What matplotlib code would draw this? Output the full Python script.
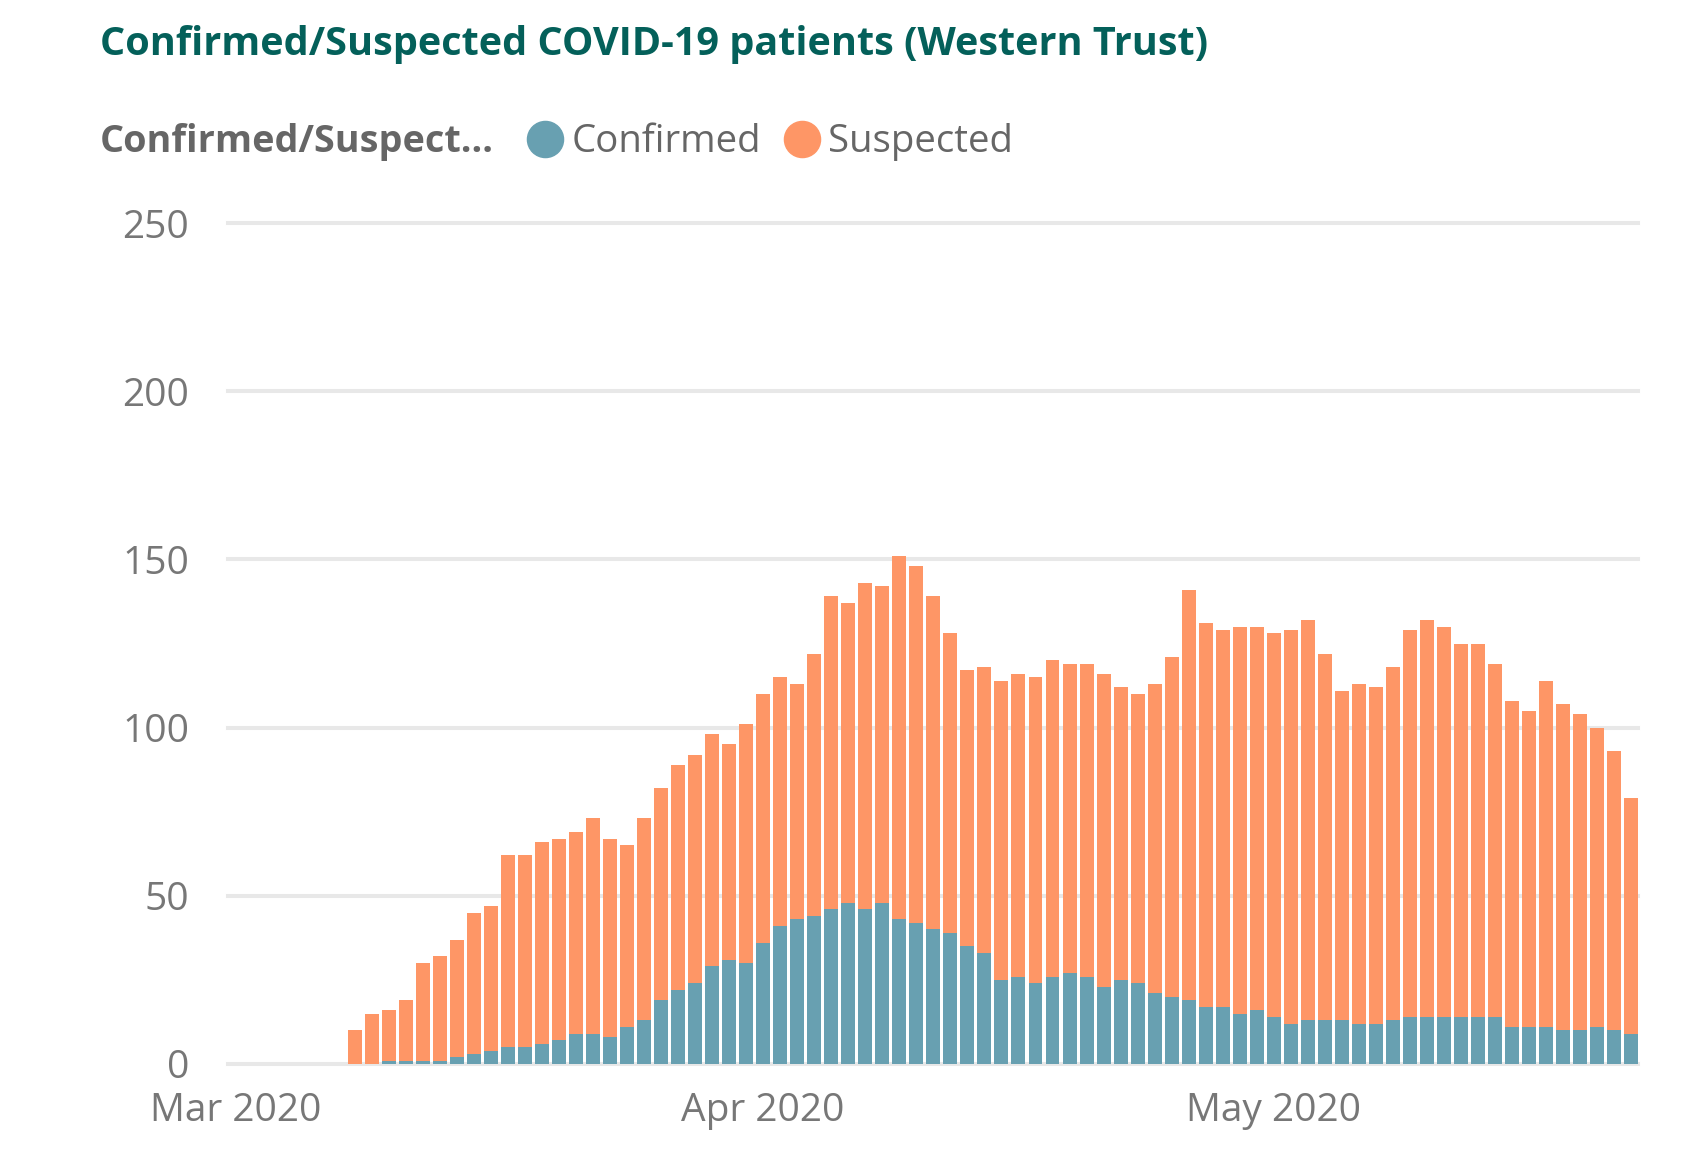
import numpy as np
import pandas as pd
import matplotlib
matplotlib.use("Agg")
import matplotlib.pyplot as plt
import matplotlib.dates as mdates
from matplotlib.lines import Line2D

# daily patients, Western Trust, from 8 Mar 2020
dates = pd.date_range("2020-03-08", periods=76, freq="D")
confirmed = [0, 0, 1, 1, 1, 1, 2, 3, 4, 5,
             5, 6, 7, 9, 9, 8, 11, 13, 19, 22,
             24, 29, 31, 30, 36, 41, 43, 44, 46, 48,
             46, 48, 43, 42, 40, 39, 35, 33, 25, 26,
             24, 26, 27, 26, 23, 25, 24, 21, 20, 19,
             17, 17, 15, 16, 14, 12, 13, 13, 13, 12,
             12, 13, 14, 14, 14, 14, 14, 14, 11, 11,
             11, 10, 10, 11, 10, 9]
suspected = [10, 15, 15, 18, 29, 31, 35, 42, 43, 57,
             57, 60, 60, 60, 64, 59, 54, 60, 63, 67,
             68, 69, 64, 71, 74, 74, 70, 78, 93, 89,
             97, 94, 108, 106, 99, 89, 82, 85, 89, 90,
             91, 94, 92, 93, 93, 87, 86, 92, 101, 122,
             114, 112, 115, 114, 114, 117, 119, 109, 98, 101,
             100, 105, 115, 118, 116, 111, 111, 105, 97, 94,
             103, 97, 94, 89, 83, 70]
series_names = ["Confirmed", "Suspected"]
month_ticks = ["2020-03-01", "2020-04-01", "2020-05-01"]
y_ticks = [0, 50, 100, 150, 200, 250]

c_conf = "#68a0b1"
c_susp = "#fe9666"
grey = "#777777"

plt.rcParams["font.family"] = ["Open Sans", "DejaVu Sans"]

W, H = 1690, 1170
fig = plt.figure(figsize=(W / 100, H / 100), dpi=100)
ax = fig.add_axes([228 / W, 1 - 1064 / H, (1638 - 228) / W, (1064 - 223) / H])

ax.bar(dates, confirmed, width=0.82, color=c_conf, linewidth=0, zorder=3)
ax.bar(dates, suspected, bottom=confirmed, width=0.82, color=c_susp, linewidth=0, zorder=3)

ax.set_ylim(0, 250)
ax.set_yticks(y_ticks)
start = pd.Timestamp("2020-03-01")
ax.set_xlim(start - pd.Timedelta(hours=10.5), dates[-1] + pd.Timedelta(hours=9.5))
ax.set_xticks(pd.to_datetime(month_ticks))
ax.xaxis.set_major_formatter(mdates.DateFormatter("%b %Y"))

for s in ax.spines.values():
    s.set_visible(False)
ax.grid(axis="y", color="#e8e8e8", linewidth=2.9, zorder=0)
ax.grid(axis="x", visible=False)
for g in ax.get_ygridlines():
    g.set_clip_on(False)
ax.tick_params(axis="both", length=0, labelsize=28, labelcolor=grey)
ax.tick_params(axis="y", pad=28)
ax.tick_params(axis="x", pad=20)


def fit_text(x, y, s, width_px, **kw):
    t = fig.text(x / W, 1 - y / H, s, **kw)
    r = fig.canvas.get_renderer()
    w = t.get_window_extent(r).width
    t.set_fontsize(t.get_fontsize() * width_px / w)
    return t


fit_text(100, 45, "Confirmed/Suspected COVID-19 patients (Western Trust)", 1109,
         fontsize=30, fontweight="bold", color="#04605a", va="center")

fit_text(100, 142, "Confirmed/Suspect...", 394, fontsize=26, fontweight="bold",
         color="#666666", va="center")
legend_pos = [(545, 572, 190), (802, 828, 185)]
for name, col, (cx, tx, tw) in zip(series_names, [c_conf, c_susp], legend_pos):
    fig.add_artist(Line2D([cx / W], [1 - 139 / H], marker="o", markersize=26,
                          color=col, linestyle="none", transform=fig.transFigure))
    fit_text(tx, 142, name, tw, fontsize=26, color="#666666", va="center")

fig.savefig("out.png", dpi=100, facecolor="white")
